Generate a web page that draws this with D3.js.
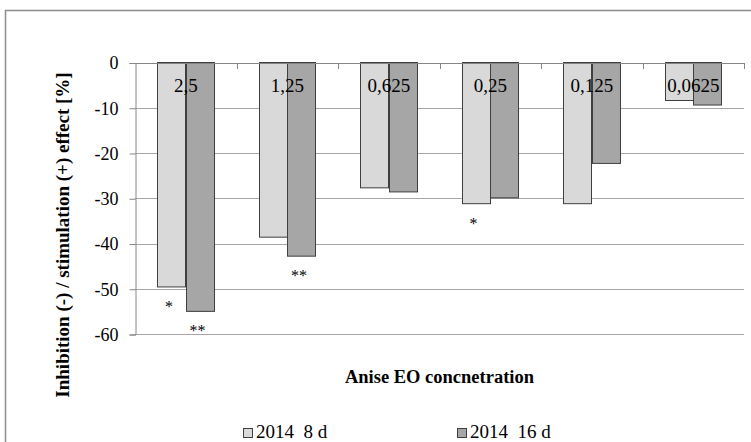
<!DOCTYPE html>
<html>
<head>
<meta charset="utf-8">
<script src="https://cdn.jsdelivr.net/npm/d3@7"></script>
<style>
  html, body { margin: 0; padding: 0; background: #fff; }
  svg { display: block; }
</style>
</head>
<body>
<svg id="chart" width="751" height="442"></svg>
<script>
// Anise essential oil concentrations (category labels drawn inside the plot)
const concentrations = ["2,5", "1,25", "0,625", "0,25", "0,125", "0,0625"];
// Effect in % for each exposure time
const values8d  = [-49.6, -38.6, -27.7, -31.2, -31.2, -8.4];
const values16d = [-55.0, -42.8, -28.6, -29.9, -22.3, -9.4];
// Significance marks under the bars
const sig8d  = ["*", "", "", "*", "", ""];
const sig16d = ["**", "**", "", "", "", ""];
const seriesNames = ["2014  8 d", "2014  16 d"];
const yTicks = [0, -10, -20, -30, -40, -50, -60];

const FONT = "Liberation Serif";
const svg = d3.select("#chart");
const colors = ["#d9d9d9", "#a6a6a6"];

// outer chart frame
svg.append("rect")
  .attr("x", 5.5).attr("y", 10.5)
  .attr("width", 800).attr("height", 500)
  .attr("fill", "none").attr("stroke", "#8c8c8c").attr("stroke-width", 1.5);

const plot = { left: 135, right: 744, top: 62.5, bottom: 334 };

const x = d3.scaleBand()
  .domain(concentrations)
  .range([plot.left, plot.right])
  .paddingInner(0.44).paddingOuter(0.22);
const xs = d3.scaleBand().domain([0, 1]).range([0, x.bandwidth()]);
const y = d3.scaleLinear().domain([0, -60]).range([plot.top, plot.bottom]);

// horizontal gridlines
svg.append("g").selectAll("line")
  .data(yTicks.filter(t => t !== 0))
  .join("line")
  .attr("x1", plot.left).attr("x2", plot.right)
  .attr("y1", d => Math.round(y(d)) + 0.5).attr("y2", d => Math.round(y(d)) + 0.5)
  .attr("stroke", "#a6a6a6").attr("stroke-width", 1);

// y axis
const yAxis = d3.axisLeft(y).tickValues(yTicks).tickSize(6).tickPadding(11)
  .tickFormat(d => String(d));
const gy = svg.append("g")
  .attr("transform", `translate(${plot.left + 0.5},0.5)`)
  .call(yAxis);
gy.select(".domain").attr("stroke", "#868686");
gy.selectAll(".tick line").attr("stroke", "#868686");
gy.selectAll(".tick text")
  .style("font-family", FONT)
  .style("font-size", "18px")
  .attr("fill", "#000");

// bars
const series = [values8d, values16d];
series.forEach((vals, si) => {
  svg.append("g").selectAll("rect")
    .data(vals.map((v, i) => ({ c: concentrations[i], v })))
    .join("rect")
    .attr("x", d => Math.round(x(d.c) + xs(si)) + 0.5)
    .attr("y", y(0))
    .attr("width", Math.round(xs.bandwidth()))
    .attr("height", d => y(d.v) - y(0))
    .attr("fill", colors[si])
    .attr("stroke", "#3f3f3f").attr("stroke-width", 1);
});

// category axis at zero with inward ticks
svg.append("line")
  .attr("x1", plot.left).attr("x2", plot.right)
  .attr("y1", Math.round(y(0)) + 0.5).attr("y2", Math.round(y(0)) + 0.5)
  .attr("stroke", "#868686");
const boundaries = concentrations.map(c => x(c) - x.step() * x.paddingInner() / 2 + x.step());
svg.append("g").selectAll("line")
  .data(boundaries)
  .join("line")
  .attr("x1", d => Math.round(d) + 0.5).attr("x2", d => Math.round(d) + 0.5)
  .attr("y1", Math.round(y(0))).attr("y2", Math.round(y(0)) + 6)
  .attr("stroke", "#868686");

// concentration labels
svg.append("g").selectAll("text")
  .data(concentrations)
  .join("text")
  .attr("x", d => x(d) + x.bandwidth() / 2)
  .attr("y", 92)
  .attr("text-anchor", "middle")
  .style("font-family", FONT)
  .style("font-size", "19px")
  .attr("fill", "#000")
  .text(d => d);

// significance asterisks
[sig8d, sig16d].forEach((sig, si) => {
  svg.append("g").selectAll("text")
    .data(sig.map((s, i) => ({ s, c: concentrations[i], v: series[si][i] })).filter(d => d.s))
    .join("text")
    .attr("x", d => x(d.c) + xs(si) + xs.bandwidth() / 2 - 2.5)
    .attr("y", d => y(d.v) + 25)
    .attr("text-anchor", "middle")
    .style("font-family", FONT)
    .style("font-size", "16px")
    .attr("fill", "#000")
    .text(d => d.s);
});

// axis titles
svg.append("text")
  .attr("transform", `translate(69,235) rotate(-90)`)
  .attr("text-anchor", "middle")
  .style("font-family", FONT)
  .style("font-weight", "bold")
  .style("font-size", "19px")
  .text("Inhibition (-) / stimulation (+) effect [%]");

svg.append("text")
  .attr("x", (plot.left + plot.right) / 2).attr("y", 383)
  .attr("text-anchor", "middle")
  .style("font-family", FONT)
  .style("font-weight", "bold")
  .style("font-size", "18.5px")
  .text("Anise EO concnetration");

// legend
const legendX = [243, 457];
const lg = svg.append("g").selectAll("g")
  .data(seriesNames)
  .join("g")
  .attr("transform", (d, i) => `translate(${legendX[i]},428)`);
lg.append("rect")
  .attr("x", 0.5).attr("y", 0.5).attr("width", 9).attr("height", 9)
  .attr("fill", (d, i) => colors[i]).attr("stroke", "#3f3f3f");
lg.append("text")
  .attr("x", 13).attr("y", 9.5)
  .style("font-family", FONT)
  .style("font-size", "19px")
  .style("white-space", "pre")
  .text(d => d);
</script>
</body>
</html>
